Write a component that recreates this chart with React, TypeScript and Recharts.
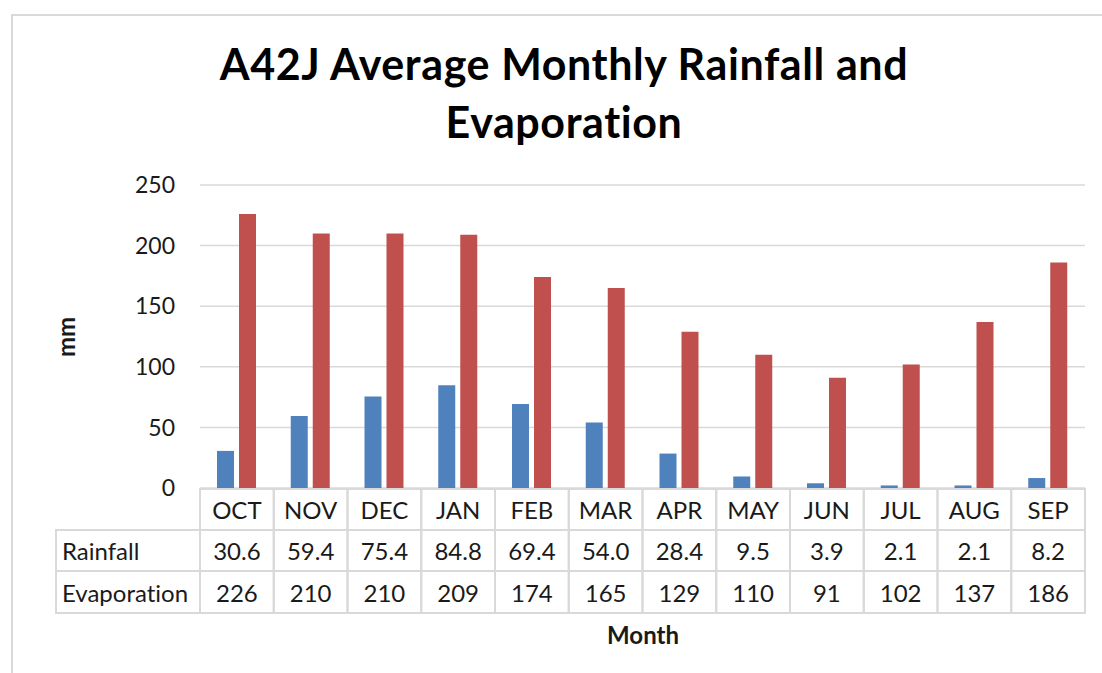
import React from "react";
import { BarChart, Bar, XAxis, YAxis, CartesianGrid } from "recharts";

const months = ["OCT", "NOV", "DEC", "JAN", "FEB", "MAR", "APR", "MAY", "JUN", "JUL", "AUG", "SEP"];
const rainfall = [30.6, 59.4, 75.4, 84.8, 69.4, 54.0, 28.4, 9.5, 3.9, 2.1, 2.1, 8.2];
const evaporation = [226, 210, 210, 209, 174, 165, 129, 110, 91, 102, 137, 186];
const yTicks = [0, 50, 100, 150, 200, 250];

const chartData = months.map((month, i) => ({
  month,
  rainfall: rainfall[i],
  evaporation: evaporation[i],
}));

const W = 1102;
const H = 673;
const PLOT_LEFT = 200;
const PLOT_RIGHT = 1085;
const COL_W = (PLOT_RIGHT - PLOT_LEFT) / months.length;
const ROW_H = [41, 41, 42];
const LINE = "#D9D9D9";
const TEXT = "#1a1a1a";
const FONT = "Lato, 'Open Sans', sans-serif";
const NO_LIGA = { fontVariantLigatures: "none" as const, fontFeatureSettings: "'liga' 0, 'clig' 0" };

// x-axis tick draws one column of the data table below the plot
function TableTick(props: any) {
  const { x, y, index } = props;
  const top = y + 1;
  const r1 = top + ROW_H[0];
  const r2 = r1 + ROW_H[1];
  const r3 = r2 + ROW_H[2];
  const left = x - COL_W / 2;
  const right = x + COL_W / 2;
  const textProps = {
    fill: TEXT,
    fontSize: 24,
    fontFamily: FONT,
    textAnchor: "middle" as const,
    dominantBaseline: "central" as const,
    style: NO_LIGA,
  };

  return (
    <g>
      <rect x={left} y={top} width={COL_W} height={r3 - top} fill="none" stroke={LINE} strokeWidth={2} />
      <line x1={left} x2={right} y1={r1} y2={r1} stroke={LINE} strokeWidth={2} />
      <line x1={left} x2={right} y1={r2} y2={r2} stroke={LINE} strokeWidth={2} />
      <text x={x} y={(top + r1) / 2} {...textProps}>{months[index]}</text>
      <text x={x} y={(r1 + r2) / 2} {...textProps}>{rainfall[index].toFixed(1)}</text>
      <text x={x} y={(r2 + r3) / 2} {...textProps}>{evaporation[index]}</text>
      {index === 0 && (
        <g>
          <rect x={56} y={r1} width={left - 56} height={r3 - r1} fill="none" stroke={LINE} strokeWidth={2} />
          <line x1={56} x2={left} y1={r2} y2={r2} stroke={LINE} strokeWidth={2} />
          <text x={62} y={(r1 + r2) / 2} fill={TEXT} fontSize={24} fontFamily={FONT} dominantBaseline="central" style={NO_LIGA}>Rainfall</text>
          <text x={62} y={(r2 + r3) / 2} fill={TEXT} fontSize={24} fontFamily={FONT} dominantBaseline="central" style={NO_LIGA}>Evaporation</text>
        </g>
      )}
    </g>
  );
}

export default function App() {
  return (
    <div style={{ position: "absolute", left: 0, top: 0, width: W, height: H, background: "#fff", overflow: "hidden", fontFamily: FONT, ...NO_LIGA }}>
      <div
        style={{
          position: "absolute",
          left: 11,
          top: 14,
          width: W,
          height: H,
          borderLeft: `2px solid ${LINE}`,
          borderTop: `2px solid ${LINE}`,
        }}
      />
      <div
        style={{
          position: "absolute",
          left: 0,
          width: 1128,
          top: 35,
          textAlign: "center",
          fontWeight: 700,
          fontSize: 43,
          letterSpacing: 0.6,
          lineHeight: "58px",
          color: "#000",
        }}
      >
        A42J Average Monthly Rainfall and
        <br />
        Evaporation
      </div>
      <div
        style={{
          position: "absolute",
          left: 65,
          top: 337,
          transform: "translate(-50%, -50%) rotate(-90deg)",
          fontWeight: 700,
          fontSize: 24,
          color: TEXT,
        }}
      >
        mm
      </div>
      <div
        style={{
          position: "absolute",
          left: 643,
          top: 634,
          transform: "translate(-50%, -50%)",
          fontWeight: 700,
          fontSize: 24,
          color: TEXT,
        }}
      >
        Month
      </div>
      <div style={{ position: "absolute", left: 0, top: 0 }}>
        <BarChart
          width={W}
          height={H}
          data={chartData}
          margin={{ top: 185, right: W - PLOT_RIGHT, left: 120, bottom: 60 }}
          barSize={17}
          barGap={5}
        >
          <CartesianGrid vertical={false} stroke={LINE} strokeWidth={1.5} />
          <YAxis
            width={80}
            domain={[0, 250]}
            ticks={yTicks}
            axisLine={false}
            tickLine={false}
            tickSize={0}
            tickMargin={25}
            tick={{ fill: TEXT, fontSize: 23, fontFamily: FONT }}
          />
          <XAxis
            dataKey="month"
            height={125}
            axisLine={false}
            tickLine={false}
            tickSize={0}
            tickMargin={0}
            interval={0}
            tick={<TableTick />}
          />
          <Bar dataKey="rainfall" fill="#4F81BD" isAnimationActive={false} />
          <Bar dataKey="evaporation" fill="#C0504D" isAnimationActive={false} />
        </BarChart>
      </div>
    </div>
  );
}
